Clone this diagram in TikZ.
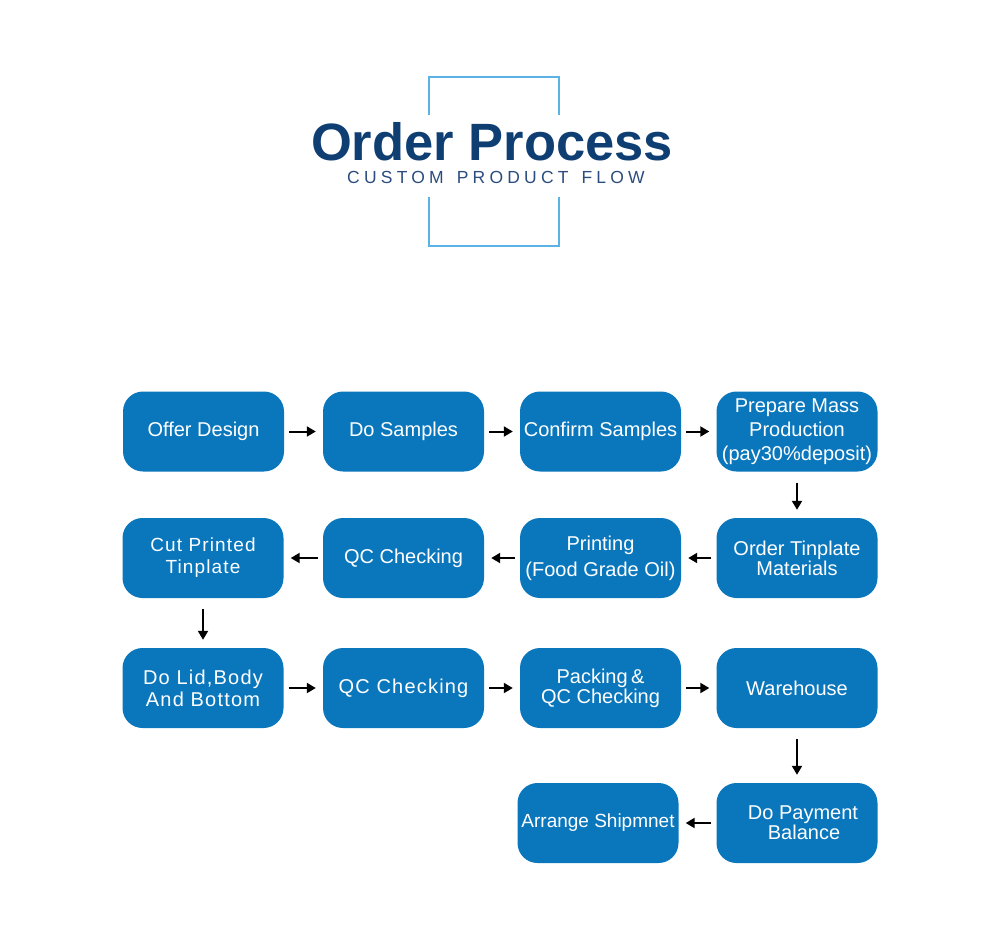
\documentclass[tikz,border=0pt]{standalone}
\usepackage{fontspec}
\setmainfont{Liberation Sans}
\newfontfamily\spacedfont[LetterSpace=6]{Liberation Sans}
\newfontfamily\subfont[LetterSpace=24]{Liberation Sans}
\usetikzlibrary{arrows.meta}
\definecolor{boxblue}{HTML}{0A77BD}
\definecolor{navy}{HTML}{0F3E73}
\definecolor{subnavy}{HTML}{2B4C7E}
\definecolor{frameblue}{HTML}{5AB3E4}
\tikzset{
  box/.style={fill=boxblue, rounded corners=20pt, minimum width=161pt, minimum height=80pt,
    inner sep=0pt, text=white, align=center, font=\fontsize{20}{24}\selectfont},
  flow/.style={-{Triangle[length=9pt,width=10pt]}, line width=2pt, black},
  hgap/.style={shorten <=5pt, shorten >=7pt},
  vgap/.style={shorten <=11pt, shorten >=8pt}
}
\begin{document}
\begin{tikzpicture}[x=1pt,y=-1pt]
\useasboundingbox (0,0) rectangle (990,930);
% title frame
\draw[frameblue, line width=2.6pt] (429,115) -- (429,77) -- (559,77) -- (559,115);
\draw[frameblue, line width=2.6pt] (429,197) -- (429,246) -- (559,246) -- (559,197);
\node[anchor=base, text=navy, font=\fontsize{52.5}{60}\selectfont\bfseries, inner sep=0pt, text depth=0pt] (title) at (492,160.5) {Order Process};
\node[anchor=base, text=subnavy, font=\fontsize{17.5}{20}\subfont, inner sep=0pt, text height=12.5pt] (subtitle) at (496,183.5) {CUSTOM\hspace{4pt} PRODUCT\hspace{4pt} FLOW};
% row 1
\node[box] (a1) at (203.5,431.5) {Offer Design};
\node[box] (a2) at (403.5,431.5) {Do Samples};
\node[box] (a3) at (600.5,431.5) {Confirm Samples};
\node[box] (a4) at (797,431.5) {Prepare Mass\\Production\\(pay30\%deposit)};
% row 2
\node[box, font=\fontsize{20}{20}\selectfont] (b4) at (797,558) {Order Tinplate\\Materials};
\node[box, font=\fontsize{20}{26}\selectfont] (b3) at (600.5,558) {Printing\\(Food Grade Oil)};
\node[box] (b2) at (403.5,558) {QC Checking};
\node[box, font=\fontsize{19}{22}\spacedfont] (b1) at (203,558) {Cut Printed\\Tinplate};
% row 3
\node[box, font=\fontsize{20}{22}\spacedfont] (c1) at (203,688) {Do Lid,Body\\And Bottom};
\node[box, font=\fontsize{20}{24}\spacedfont] (c2) at (403.5,688) {QC Checking};
\node[box, font=\fontsize{20}{20}\selectfont] (c3) at (600.5,688) {Packing\,\&\\QC Checking};
\node[box] (c4) at (797,688) {Warehouse};
% row 4
\node[box, font=\fontsize{20}{20}\selectfont] (d4) at (797,823) {\hspace*{12pt}Do Payment\\\hspace*{14pt}Balance};
\node[box, font=\fontsize{19}{22}\selectfont] (d3) at (598,823) {Arrange Shipmnet};
% connectors
\draw[flow,hgap] (a1) -- (a2);
\draw[flow,hgap] (a2) -- (a3);
\draw[flow,hgap] (a3) -- (a4);
\draw[flow,vgap] (a4) -- (b4);
\draw[flow,hgap] (b4) -- (b3);
\draw[flow,hgap] (b3) -- (b2);
\draw[flow,hgap] (b2) -- (b1);
\draw[flow,vgap] (b1) -- (c1);
\draw[flow,hgap] (c1) -- (c2);
\draw[flow,hgap] (c2) -- (c3);
\draw[flow,hgap] (c3) -- (c4);
\draw[flow,vgap] (c4) -- (d4);
\draw[flow,hgap] (d4) -- (d3);
\end{tikzpicture}
\end{document}
